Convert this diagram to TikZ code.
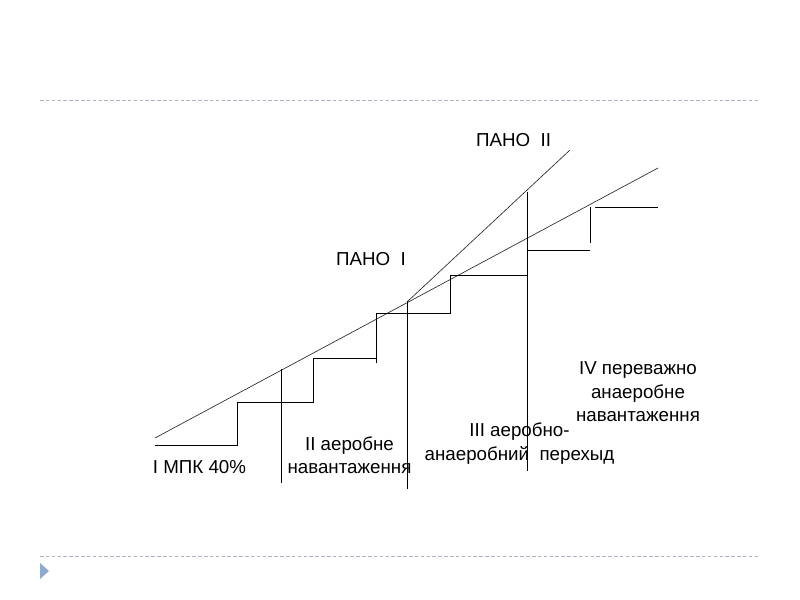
\documentclass[tikz,border=0pt]{standalone}
\usepackage{fontspec}
\setmainfont{Liberation Sans}
\usetikzlibrary{positioning}

\definecolor{rulegray}{RGB}{170,180,192}
\definecolor{bulletblue}{RGB}{140,170,210}

\begin{document}
\begin{tikzpicture}[
    x=0.3mm, y=-0.3mm,
    stair/.style={black, line width=0.8pt},
    trend/.style={black!85, line width=0.55pt},
    rule/.style={rulegray, line width=0.8pt, dash pattern=on 3pt off 2pt},
    lbl/.style={align=center, inner sep=0pt, font=\fontsize{16}{20}\selectfont}
]
\useasboundingbox (0,0) rectangle (800,600);

% Slide rules and bullet
\draw[rule] (40,100) -- (758,100);
\draw[rule] (40,556) -- (758,556);
\fill[bulletblue] (40,563) -- (49,571) -- (40,579) -- cycle;

% Threshold lines
\draw[trend] (155,438) -- (658,168);
\draw[trend] (407,302) -- (570,150);

% Load steps
\draw[stair] (155,445) -- (237,445) -- (237,402) -- (313,402) -- (313,358) -- (376,358);
\draw[stair] (376,363) -- (376,313) -- (450,313) -- (450,275) -- (527,275);
\draw[stair] (527,250) -- (590,250);
\draw[stair] (590,243) -- (590,207);
\draw[stair] (595,207) -- (658,207);

% Zone borders
\draw[stair] (281,369) -- (281,483);
\draw[stair] (407,301) -- (407,489);
\draw[stair] (527,192) -- (527,471);

% Labels
\node[lbl] (pano1) at (371,259.5) {ПАНО\ \ I};
\node[lbl] (pano2) at (513.5,140) {ПАНО\ \ II};
\node[lbl] (zone1) at (199.5,467.5) {I МПК 40\%};
\node[lbl] (zone2) at (349.5,455) {II аеробне\\навантаження};
\node[lbl] (zone3) at (519.5,443.5) {III аеробно-\\анаеробний\ \ перехыд};
\node[lbl] (zone4) at (638,392) {IV переважно\\анаеробне\\навантаження};

\end{tikzpicture}
\end{document}
